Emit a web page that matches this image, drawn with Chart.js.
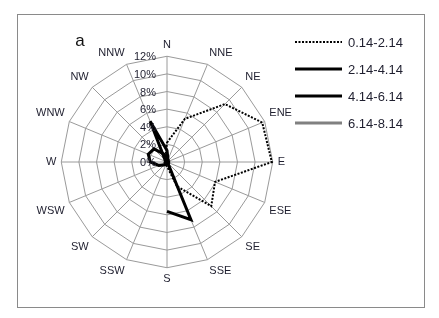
<!DOCTYPE html>
<html>
<head>
<meta charset="utf-8">
<script src="https://cdn.jsdelivr.net/npm/chart.js@4.4.1/dist/chart.umd.min.js"></script>
<style>
  html, body { margin: 0; padding: 0; background: #fff; }
  #wrap { position: relative; width: 439px; height: 318px; }
</style>
</head>
<body>
<div id="wrap"><canvas id="c" width="439" height="318"></canvas></div>
<script>
const directions = ["N","NNE","NE","ENE","E","ESE","SE","SSE","S","SSW","SW","WSW","W","WNW","NW","NNW"];
const seriesNames = ["0.14-2.14","2.14-4.14","4.14-6.14","6.14-8.14"];
const s1 = [2.2, 5.3, 9.3, 11.7, 11.9, 5.9, 7.1, 3.0, 0.5, 0.3, 0.3, 0.3, 0.3, 0.3, 0.3, 0.5];
const s2 = [1.3, 0.3, 0.2, 0.2, 0.2, 0.2, 0.1, 7.1, 5.6, null, 0.2, 0.2, 0.2, 0.2, 0.3, 5.0];
const s3 = [0.5, 0.2, 0.1, 0.1, 0.1, 0.1, 0.1, 0.2, 0.2, 0.3, 0.5, 1.0, 1.9, 2.3, 2.1, 1.0];
const s4 = [0.1, 0.1, 0.1, 0.1, 0.1, 0.1, 0.1, 0.1, 0.1, 0.1, 0.1, 0.1, 0.1, 0.1, 0.1, 0.1];
const tickLabels = ["0%","2%","4%","6%","8%","10%","12%"];
const panelLabel = "a";

const FONT = "'Liberation Sans', Arial, sans-serif";

const decor = {
  id: 'decor',
  beforeDraw(chart) {
    const ctx = chart.ctx;
    ctx.save();
    ctx.fillStyle = '#fff';
    ctx.fillRect(0, 0, chart.width, chart.height);
    ctx.strokeStyle = '#8a8a8a';
    ctx.lineWidth = 1;
    ctx.strokeRect(17.5, 14.5, 407, 293);
    ctx.restore();
  },
  afterDraw(chart) {
    const ctx = chart.ctx;
    const sc = chart.scales.r;
    ctx.save();
    ctx.font = '11px ' + FONT;
    ctx.fillStyle = '#1f1f2f';
    ctx.textAlign = 'right';
    ctx.textBaseline = 'middle';
    sc.ticks.forEach((t, i) => {
      const d = sc.getDistanceFromCenterForValue(t.value);
      ctx.fillText(tickLabels[i], sc.xCenter - 11, sc.yCenter - d + 1);
    });
    ctx.font = '17px ' + FONT;
    ctx.fillStyle = '#111';
    ctx.textAlign = 'center';
    ctx.fillText(panelLabel, 80, 41);
    const x0 = 295, x1 = 342, ys = [42, 69, 96, 123];
    chart.data.datasets.forEach((ds, i) => {
      ctx.beginPath();
      ctx.strokeStyle = ds.borderColor;
      ctx.lineWidth = ds.borderWidth;
      ctx.setLineDash(ds.borderDash || []);
      ctx.moveTo(x0, ys[i]);
      ctx.lineTo(x1, ys[i]);
      ctx.stroke();
      ctx.setLineDash([]);
      ctx.font = '13px ' + FONT;
      ctx.fillStyle = '#1f1f2f';
      ctx.textAlign = 'left';
      ctx.textBaseline = 'middle';
      ctx.fillText(ds.label, 348, ys[i] + 1);
    });
    ctx.restore();
  }
};

const dsStyle = [
  { borderColor: '#000', borderWidth: 2, borderDash: [2, 1.5] },
  { borderColor: '#000', borderWidth: 3, borderDash: [] },
  { borderColor: '#000', borderWidth: 3, borderDash: [] },
  { borderColor: '#808080', borderWidth: 3, borderDash: [] }
];
const values = [s1, s2, s3, s4];

new Chart(document.getElementById('c'), {
  type: 'radar',
  data: {
    labels: directions,
    datasets: values.map((v, i) => Object.assign({
      label: seriesNames[i],
      data: v,
      fill: false,
      pointRadius: 0,
      pointHoverRadius: 0,
      tension: 0,
      spanGaps: false
    }, dsStyle[i]))
  },
  options: {
    responsive: false,
    animation: false,
    devicePixelRatio: 1,
    layout: { padding: { left: 33, right: 143, top: 36, bottom: 30 } },
    plugins: { legend: { display: false }, tooltip: { enabled: false } },
    scales: {
      r: {
        min: 0, max: 12,
        ticks: { stepSize: 2, display: false },
        grid: { color: '#9a9a9a', lineWidth: 1, circular: false },
        angleLines: { color: '#9a9a9a', lineWidth: 1 },
        pointLabels: { font: { family: FONT, size: 11 }, color: '#1f1f2f', padding: 5 }
      }
    }
  },
  plugins: [decor]
});
</script>
</body>
</html>
